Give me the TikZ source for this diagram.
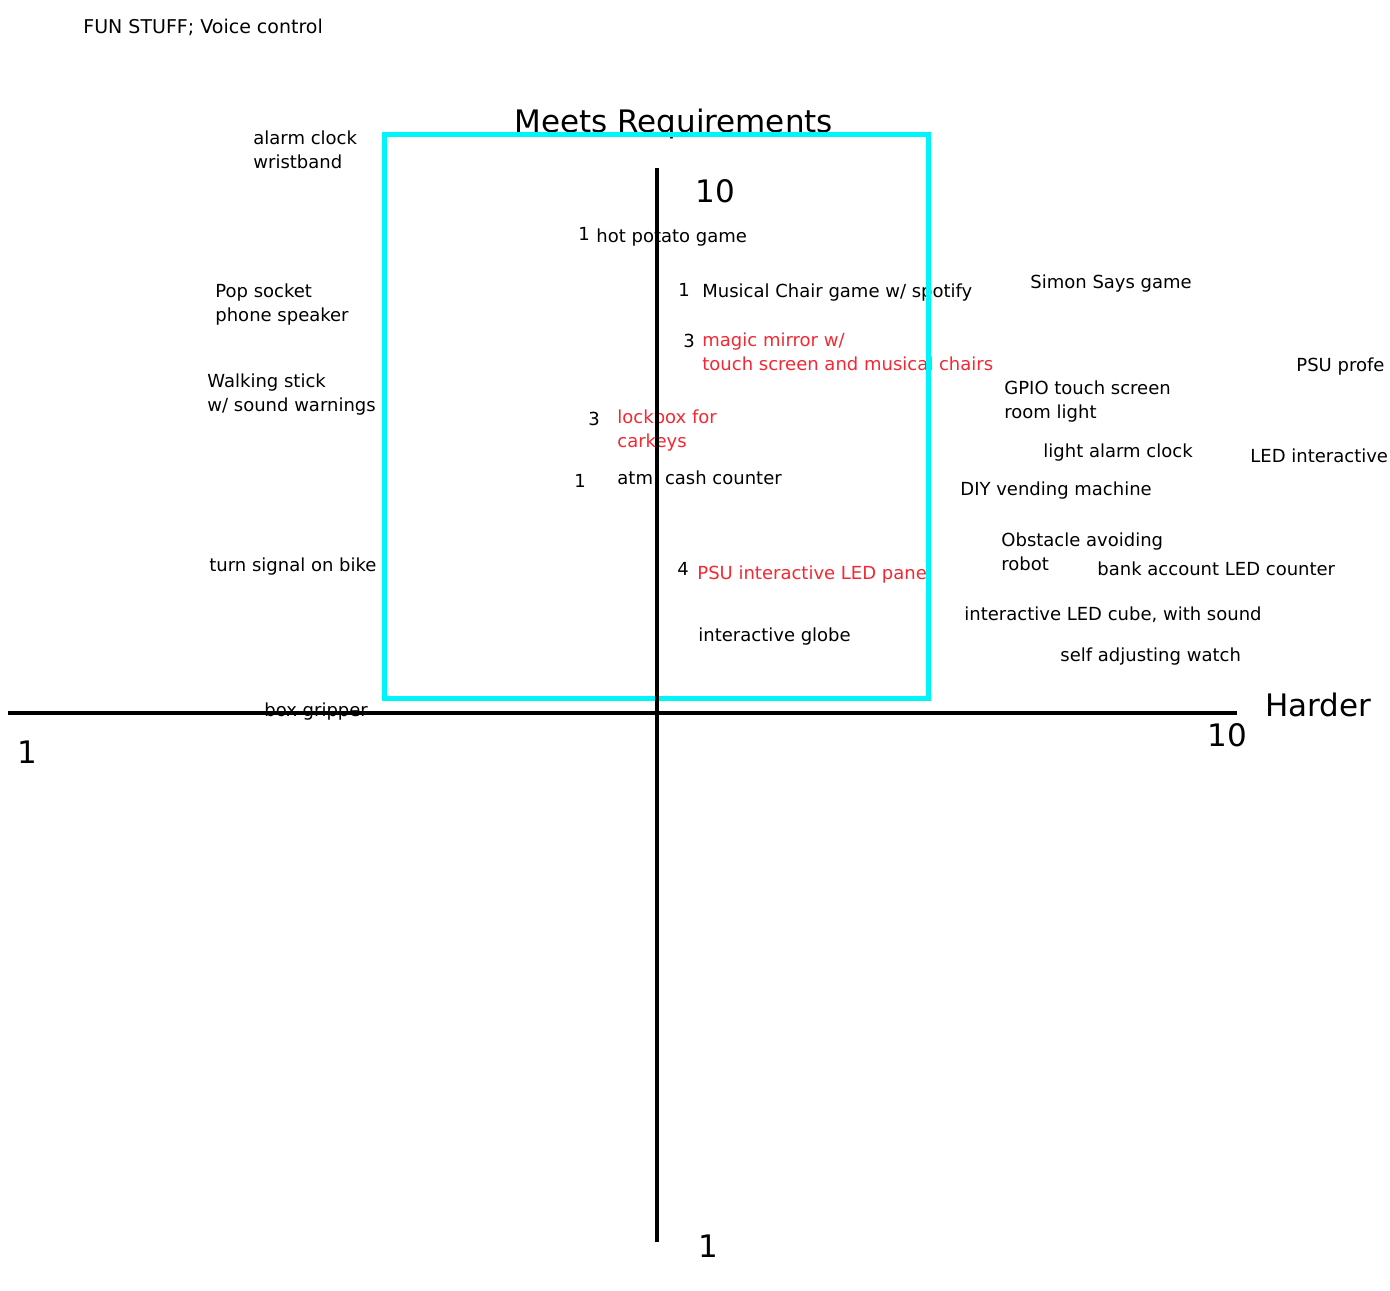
\documentclass[tikz,border=0pt]{standalone}
\usepackage{fontspec}
\setmainfont{DejaVu Sans}
\definecolor{boxcyan}{RGB}{0,245,250}
\definecolor{idea}{RGB}{245,40,50}
\begin{document}
\begin{tikzpicture}[x=0.5pt,y=-0.5pt,
  lbl/.style={anchor=base west,inner sep=0pt,font=\fontsize{9}{12}\selectfont,align=left},
  big/.style={anchor=base west,inner sep=0pt,font=\fontsize{15.5}{18}\selectfont},
  hot/.style={text=idea},
  axis/.style={line width=2pt,black},
  zone/.style={line width=2.5pt,draw=boxcyan}]
\useasboundingbox (0,0) rectangle (1390,1290);
% texts (multi-line nodes are placed by the baseline of their last line)
\node[lbl,font=\fontsize{9.5}{12}\selectfont] (fun) at (83,33) {FUN STUFF; Voice control};
\node[big] (title) at (514,132) {Meets Requirements};
\node[lbl] (alarm) at (253,168) {alarm clock\\wristband};
\node[big] (tentop) at (695,202) {10};
\node[lbl] (n1) at (578,240) {1};
\node[lbl] (potato) at (596,242) {hot potato game};
\node[lbl] (n2) at (678,296) {1};
\node[lbl] (musical) at (702,297) {Musical Chair game w/ spotify};
\node[lbl] (simon) at (1030,288) {Simon Says game};
\node[lbl] (n3) at (683,347) {3};
\node[lbl,hot] (mirror) at (702,370) {magic mirror w/\\touch screen and musical chairs};
\node[lbl] (psu) at (1296,371) {PSU profe};
\node[lbl] (gpio) at (1004,418) {GPIO touch screen\\room light};
\node[lbl] (lightalarm) at (1043,457) {light alarm clock};
\node[lbl] (ledint) at (1250,462) {LED interactive};
\node[lbl] (diy) at (960,495) {DIY vending machine};
\node[lbl] (n4) at (588,425) {3};
\node[lbl,hot] (lockbox) at (617,447) {lockbox for\\carkeys};
\node[lbl] (n5) at (574,487) {1};
\node[lbl] (atm) at (617,484) {atm\hspace{6pt}cash counter};
\node[lbl] (pop) at (215,321) {Pop socket\\phone speaker};
\node[lbl] (walk) at (207,411) {Walking stick\\w/ sound warnings};
\node[lbl] (turn) at (209,571) {turn signal on bike};
\node[lbl] (obst) at (1001,570) {Obstacle avoiding\\robot};
\node[lbl] (bank) at (1097,575) {bank account LED counter};
\node[lbl] (n6) at (677,575) {4};
\node[lbl,hot] (panel) at (697,579) {PSU interactive LED panel};
\node[lbl] (cube) at (964,620) {interactive LED cube, with sound};
\node[lbl] (globe) at (698,641) {interactive globe};
\node[lbl] (watch) at (1060,661) {self adjusting watch};
\node[lbl] (gripper) at (264,716) {box gripper};
\node[big] (harder) at (1265,716) {Harder};
\node[big] (tenright) at (1207,746) {10};
\node[big] (oneleft) at (17,763) {1};
\node[big] (onebottom) at (698,1257) {1};
% axes and zone
\coordinate (hl) at (8,713);
\coordinate (hr) at (1237,713);
\coordinate (vt) at (657,168);
\coordinate (vb) at (657,1242);
\coordinate (zoneA) at (384,134);
\coordinate (zoneB) at (928,698);
\draw[zone] (zoneA) rectangle (zoneB);
\draw[axis] (hl) -- (hr);
\draw[axis] (vt) -- (vb);
\end{tikzpicture}
\end{document}
